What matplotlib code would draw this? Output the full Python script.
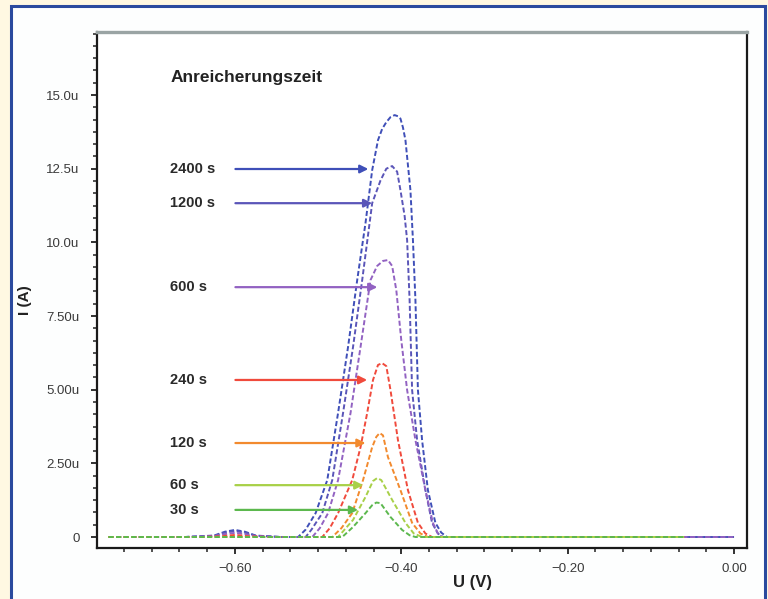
import matplotlib
matplotlib.use("Agg")
import matplotlib.pyplot as plt
from matplotlib.patches import Rectangle
from matplotlib.ticker import MultipleLocator, FixedLocator, FixedFormatter

plt.rcParams["font.family"] = ["Liberation Sans", "DejaVu Sans"]

# ---------------- data (U in V, I in microampere) ----------------
series_names = ["2400 s", "1200 s", "600 s", "240 s", "120 s", "60 s", "30 s"]
series_colors = ["#3f4fb8", "#5a55b8", "#9262c2", "#f04a3c", "#f28a2e", "#a8d048", "#5cb84e"]

u_2400 = [-0.752, -0.660, -0.625, -0.612, -0.600, -0.588, -0.575, -0.545, -0.524, -0.515, -0.503,
          -0.489, -0.476, -0.464, -0.453, -0.443, -0.435, -0.428, -0.423, -0.418, -0.413, -0.408,
          -0.404, -0.401, -0.398, -0.395, -0.389, -0.386, -0.383, -0.380, -0.375, -0.368, -0.359,
          -0.352, -0.345, -0.200, 0.000]
i_2400 = [0.0, 0.0, 0.05, 0.18, 0.24, 0.18, 0.05, 0.0, 0.0, 0.25, 0.81,
          1.93, 4.21, 6.45, 8.72, 10.66, 12.45, 13.47, 13.85, 14.08, 14.25, 14.32,
          14.28, 14.2, 13.9, 13.47, 11.77, 10.08, 8.04, 4.99, 3.29, 1.59, 0.48,
          0.15, 0.0, 0.0, 0.0]

u_1200 = [-0.752, -0.660, -0.625, -0.612, -0.600, -0.588, -0.575, -0.545, -0.515, -0.508, -0.495,
          -0.483, -0.470, -0.458, -0.447, -0.435, -0.425, -0.418, -0.411, -0.405, -0.401, -0.396,
          -0.393, -0.390, -0.387, -0.381, -0.371, -0.363, -0.356, -0.350, -0.200, 0.000]
i_1200 = [0.0, 0.0, 0.04, 0.15, 0.20, 0.15, 0.04, 0.0, 0.0, 0.25, 0.81,
          1.93, 4.21, 6.45, 8.72, 11.33, 12.1, 12.5, 12.59, 12.4, 11.77, 10.9,
          10.08, 8.04, 4.99, 3.29, 1.59, 0.48, 0.12, 0.0, 0.0, 0.0]

u_600 = [-0.752, -0.660, -0.625, -0.612, -0.600, -0.588, -0.575, -0.545, -0.507, -0.498, -0.488,
         -0.476, -0.461, -0.449, -0.437, -0.429, -0.422, -0.416, -0.411, -0.406, -0.400, -0.393,
         -0.383, -0.371, -0.362, -0.356, -0.351, -0.200, 0.000]
i_600 = [0.0, 0.0, 0.03, 0.10, 0.14, 0.10, 0.03, 0.0, 0.0, 0.3, 0.81,
         1.93, 4.21, 6.45, 8.72, 9.2, 9.37, 9.40, 9.2, 8.38, 6.68, 4.99,
         3.29, 1.59, 0.48, 0.12, 0.0, 0.0, 0.0]

u_240 = [-0.752, -0.640, -0.615, -0.600, -0.585, -0.560, -0.495, -0.486, -0.476, -0.459, -0.449,
         -0.441, -0.434, -0.428, -0.423, -0.418, -0.413, -0.404, -0.392, -0.380, -0.371, -0.363,
         -0.060]
i_240 = [0.0, 0.0, 0.03, 0.07, 0.03, 0.0, 0.0, 0.3, 0.81, 1.93, 3.05,
         4.21, 5.33, 5.84, 5.90, 5.8, 4.99, 3.29, 1.59, 0.48, 0.12, 0.0,
         0.0]

u_120 = [-0.752, -0.483, -0.472, -0.459, -0.446, -0.435, -0.430, -0.426, -0.422, -0.416, -0.401,
         -0.387, -0.377, -0.368, -0.060]
i_120 = [0.0, 0.0, 0.3, 0.81, 1.93, 3.05, 3.4, 3.53, 3.45, 2.71, 1.59,
         0.48, 0.12, 0.0, 0.0]

u_60 = [-0.752, -0.476, -0.458, -0.443, -0.434, -0.429, -0.424, -0.411, -0.395, -0.385, -0.375, -0.060]
i_60 = [0.0, 0.0, 0.58, 1.36, 1.9, 2.0, 1.93, 1.26, 0.48, 0.12, 0.0, 0.0]

u_30 = [-0.752, -0.471, -0.458, -0.443, -0.435, -0.430, -0.425, -0.413, -0.399, -0.390, -0.383, -0.060]
i_30 = [0.0, 0.0, 0.34, 0.81, 1.08, 1.17, 1.15, 0.68, 0.24, 0.06, 0.0, 0.0]

series_u = [u_2400, u_1200, u_600, u_240, u_120, u_60, u_30]
series_i = [i_2400, i_1200, i_600, i_240, i_120, i_60, i_30]

# arrow annotation levels (I) and arrow tip positions (U)
arrow_levels = [12.49, 11.33, 8.48, 5.33, 3.19, 1.76, 0.92]
arrow_tips = [-0.4396, -0.435, -0.4288, -0.441, -0.443, -0.4456, -0.452]

xtick_values = [-0.6, -0.4, -0.2, 0.0]
xtick_labels = ["\u22120.60", "\u22120.40", "\u22120.20", "0.00"]
ytick_values = [0, 2.5, 5.0, 7.5, 10.0, 12.5, 15.0]
ytick_labels = ["0", "2.50u", "5.00u", "7.50u", "10.0u", "12.5u", "15.0u"]

# ---------------- figure ----------------
W, H = 768, 599
fig = plt.figure(figsize=(W / 100, H / 100), dpi=100)
fig.patch.set_facecolor("#fff8e2")

panel = Rectangle((11 / W, -0.02), (765 - 11) / W, 1 - 6 / H + 0.02, transform=fig.transFigure,
                  facecolor="#fdfefe", edgecolor="#2b4a9e", linewidth=2.2, zorder=-10)
fig.add_artist(panel)

ax = fig.add_axes([97 / W, 1 - 548 / H, (747 - 97) / W, (548 - 32) / H])
ax.set_zorder(1)
ax.set_facecolor("white")

for u, i, c in zip(series_u, series_i, series_colors):
    line, = ax.plot(u, i, color=c, lw=1.4, linestyle="--")
    line.set_dashes([2.6, 1.3])

for name, c, y, tip in zip(series_names, series_colors, arrow_levels, arrow_tips):
    ax.annotate("", xy=(tip, y), xytext=(-0.5994, y),
                arrowprops=dict(arrowstyle="-|>", color=c, lw=1.6, mutation_scale=12,
                                shrinkA=0, shrinkB=0))
    ax.text(-0.6775, y, name, fontsize=10.5, fontweight="bold", color="#2a2a2a",
            ha="left", va="center")

ax.text(-0.6775, 15.6, "Anreicherungszeit", fontsize=12.5, fontweight="bold",
        color="#222222", ha="left", va="center")

ax.set_xlim(-0.7658, 0.0156)
ax.set_ylim(-0.373, 17.14)

ax.xaxis.set_major_locator(FixedLocator(xtick_values))
ax.xaxis.set_major_formatter(FixedFormatter(xtick_labels))
ax.xaxis.set_minor_locator(MultipleLocator(0.2 / 6))
ax.yaxis.set_major_locator(FixedLocator(ytick_values))
ax.yaxis.set_major_formatter(FixedFormatter(ytick_labels))
ax.yaxis.set_minor_locator(MultipleLocator(2.5 / 6))

ax.tick_params(axis="both", which="major", length=4.5, width=1.3, color="#222222",
               labelsize=9.5, labelcolor="#3a3a3a")
ax.tick_params(axis="both", which="minor", length=3, width=1.1, color="#222222")
ax.tick_params(axis="y", which="major", pad=8)
ax.tick_params(axis="x", which="major", pad=6)

for s in ["left", "bottom", "right"]:
    ax.spines[s].set_linewidth(1.6)
    ax.spines[s].set_color("#1a1a1a")
ax.spines["top"].set_linewidth(2.4)
ax.spines["top"].set_color("#9aa4a4")

ax.set_xlabel("U (V)", fontsize=12, fontweight="bold", color="#222222")
ax.xaxis.set_label_coords(0.577, -0.052)
ax.set_ylabel("I (A)", fontsize=11, fontweight="bold", color="#222222")
ax.yaxis.set_label_coords(-0.1, 0.48)

fig.savefig("out.png", dpi=100, facecolor=fig.get_facecolor())
